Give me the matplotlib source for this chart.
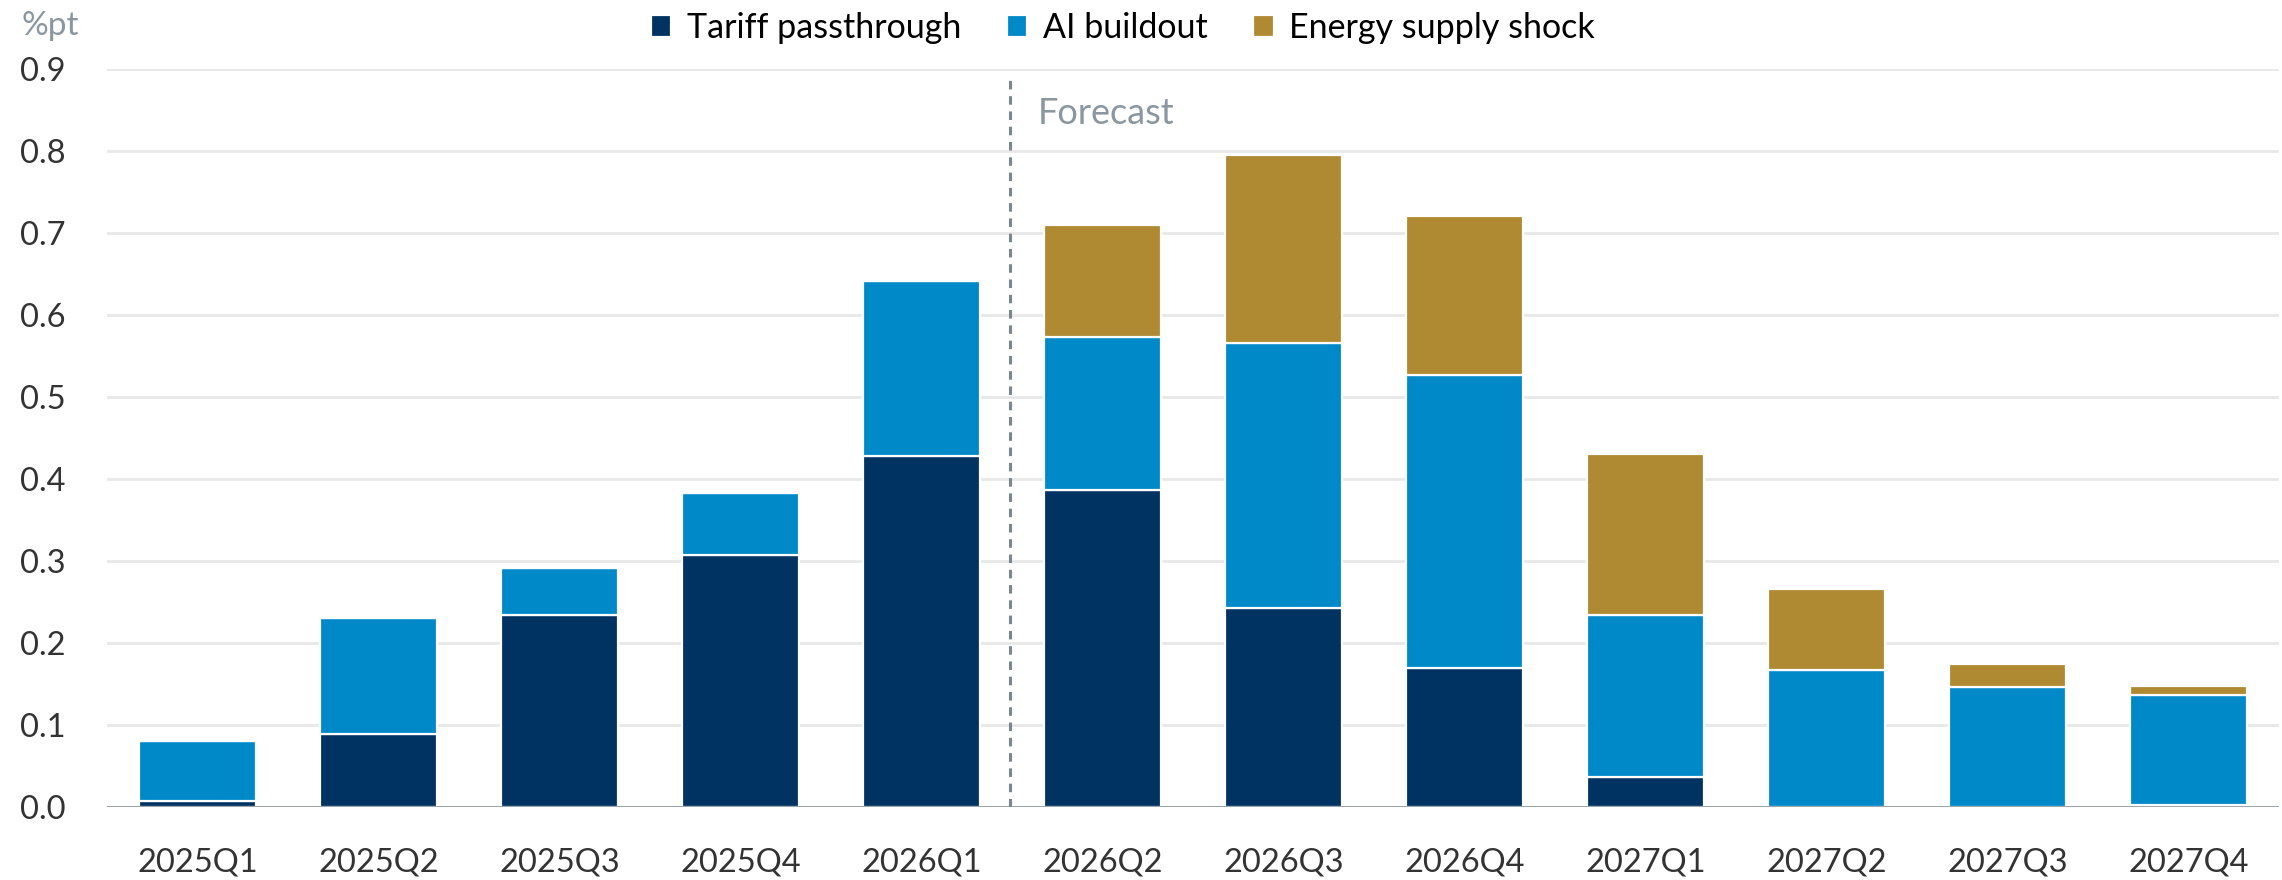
"""Stacked bar chart: contributions to inflation (%pt) by quarter."""

import matplotlib
matplotlib.use("Agg")
import matplotlib.pyplot as plt
import numpy as np


QUARTERS = [
    "2025Q1", "2025Q2", "2025Q3", "2025Q4", "2026Q1", "2026Q2",
    "2026Q3", "2026Q4", "2027Q1", "2027Q2", "2027Q3", "2027Q4",
]
TARIFF = [0.007, 0.089, 0.234, 0.307, 0.428, 0.387, 0.243, 0.169, 0.037, 0.0, 0.0, 0.003]
AI_BUILDOUT = [0.073, 0.142, 0.057, 0.076, 0.213, 0.186, 0.323, 0.358, 0.197, 0.167, 0.146, 0.134]
ENERGY = [0.0, 0.0, 0.0, 0.0, 0.0, 0.137, 0.229, 0.194, 0.197, 0.099, 0.028, 0.010]

SERIES = [
    ("Tariff passthrough", TARIFF, "#003262"),
    ("AI buildout", AI_BUILDOUT, "#0089C9"),
    ("Energy supply shock", ENERGY, "#B08A32"),
]

Y_TICKS = [0.0, 0.1, 0.2, 0.3, 0.4, 0.5, 0.6, 0.7, 0.8, 0.9]

plt.rcParams["font.family"] = ["Lato", "DejaVu Sans"]


def main():
    fig = plt.figure(figsize=(22.82, 8.8), dpi=100)
    ax = fig.add_axes([0.0469, 0.083, 0.9518, 0.8386])

    x = np.arange(len(QUARTERS))
    bottom = np.zeros(len(QUARTERS))
    handles = []
    for label, values, color in SERIES:
        vals = np.array(values)
        bars = ax.bar(
            x, vals, width=0.65, bottom=bottom, color=color,
            edgecolor="white", linewidth=1.6, label=label, zorder=3,
        )
        handles.append(bars)
        bottom += vals

    ax.set_xlim(-0.5, 11.5)
    ax.set_ylim(0, 0.9)
    ax.set_yticks(Y_TICKS)
    ax.set_yticklabels([f"{v:.1f}" for v in Y_TICKS])
    ax.set_xticks(x)
    ax.set_xticklabels(QUARTERS)

    ax.grid(axis="y", color="#E8E8E8", linewidth=2, zorder=0)
    ax.axhline(0, color="#9AA5AD", linewidth=2.2, zorder=4)
    for side in ["top", "right", "left", "bottom"]:
        ax.spines[side].set_visible(False)
    ax.tick_params(axis="both", length=0, labelsize=23.5, labelcolor="#333333")
    ax.tick_params(axis="y", pad=30)
    ax.tick_params(axis="x", pad=29)

    # forecast divider
    ax.vlines(4.49, 0, 0.89, colors="#7A8790", linestyles=(0, (2.8, 2.2)), linewidth=2.2, zorder=5)
    ax.text(4.64, 0.846, "Forecast", fontsize=26, color="#8A97A0", va="center", ha="left")

    fig.text(0.0096, 0.970, "%pt", fontsize=24, color="#8A97A0", va="center", ha="left")

    fig.legend(
        handles=handles, loc="center", bbox_to_anchor=(0.492, 0.968), ncol=3,
        frameon=False, fontsize=24.5, handlelength=0.6, handleheight=0.6,
        handletextpad=0.45, columnspacing=1.35,
    )

    fig.savefig("out.png", dpi=100)


if __name__ == "__main__":
    main()
